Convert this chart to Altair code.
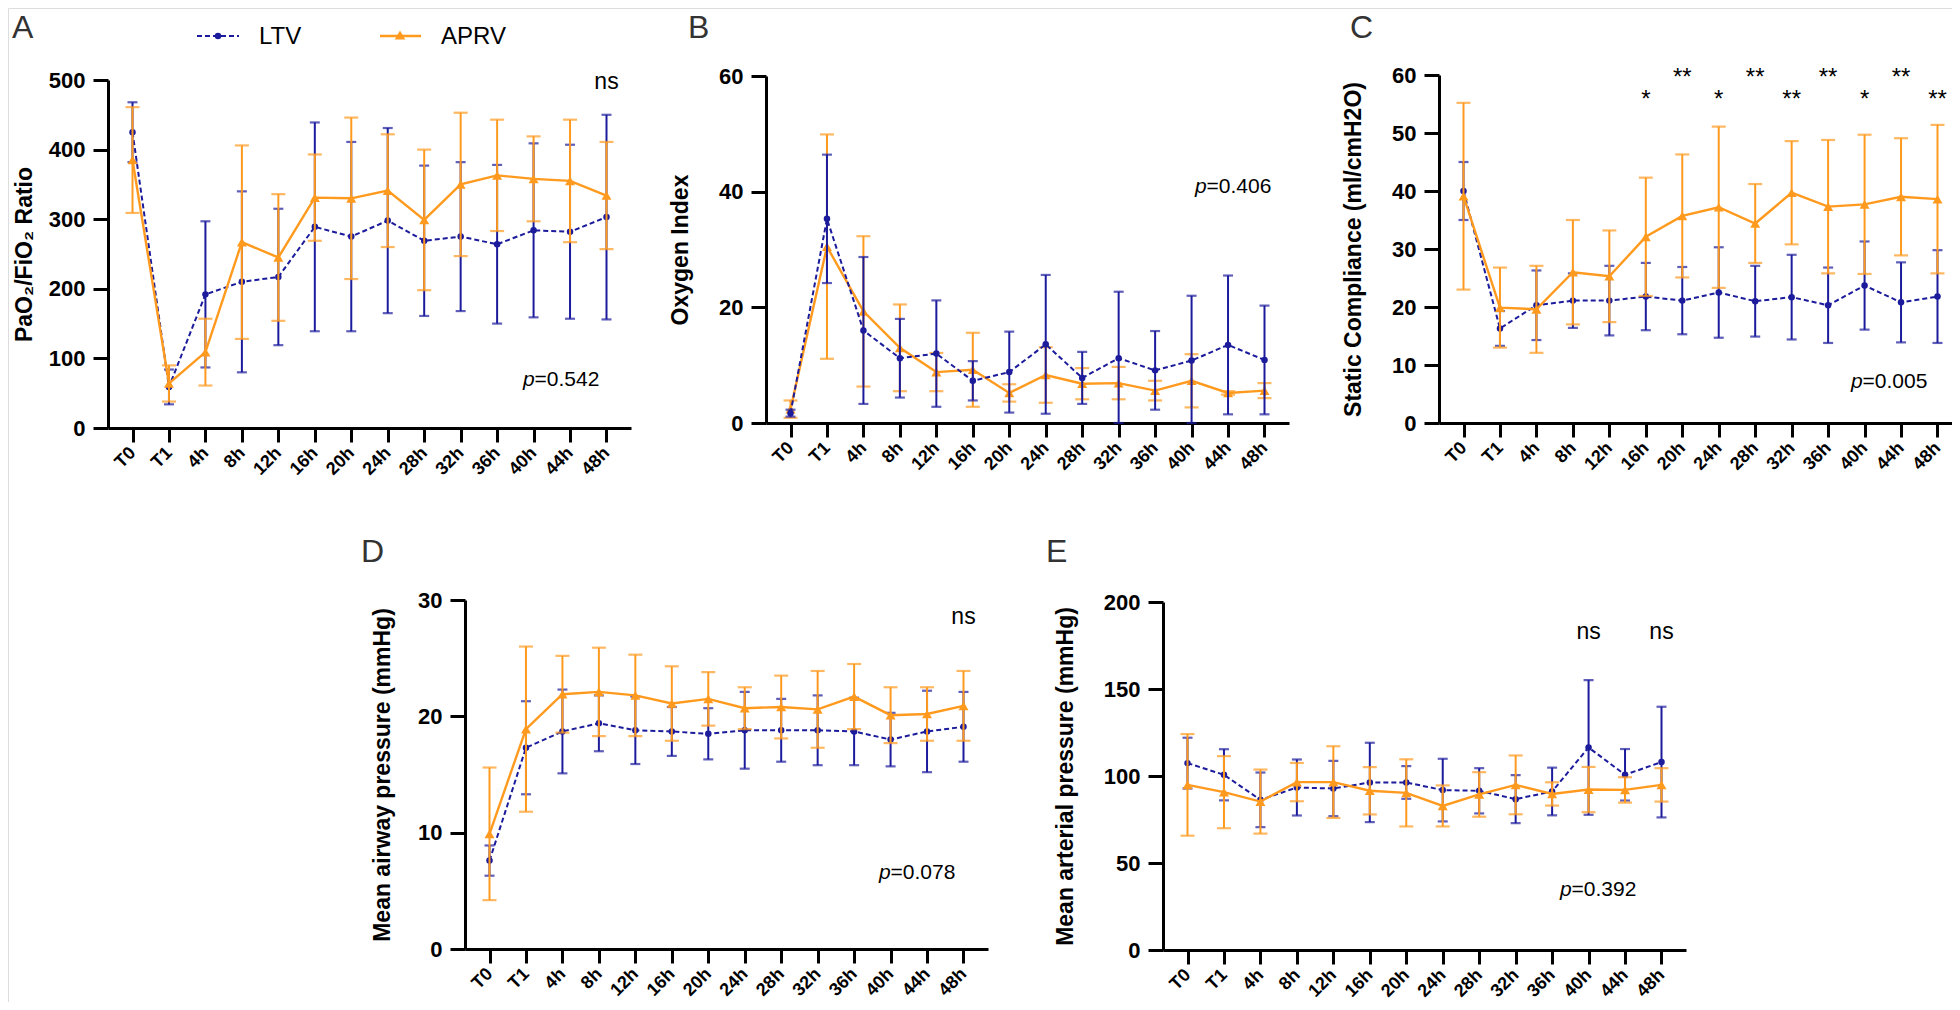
import altair as alt
import pandas as pd

times = ["T0", "T1", "4h", "8h", "12h", "16h", "20h", "24h", "28h", "32h", "36h", "40h", "44h", "48h"]

# Panel A  PaO2/FiO2
a_ltv_mean = [425, 59, 192, 210, 217, 289, 275, 298, 269, 275, 264, 284, 282, 303]
a_ltv_sd = [43, 25, 105, 130, 98, 150, 136, 133, 108, 107, 114, 125, 125, 147]
a_aprv_mean = [385, 64, 109, 267, 245, 331, 330, 341, 299, 350, 363, 358, 355, 334]
a_aprv_sd = [76, 26, 48, 139, 91, 62, 116, 81, 101, 103, 80, 61, 88, 77]

# Panel B  Oxygen index
b_ltv_mean = [1.7, 35.3, 16.0, 11.2, 12.0, 7.3, 8.8, 13.6, 7.8, 11.2, 9.1, 10.8, 13.5, 10.9]
b_ltv_sd = [0.6, 11.1, 12.7, 6.8, 9.2, 3.4, 7.0, 12.0, 4.5, 11.5, 6.8, 11.2, 12.0, 9.4]
b_aprv_mean = [2.4, 30.5, 19.3, 13.0, 8.8, 9.2, 5.2, 8.3, 6.8, 6.9, 5.6, 7.3, 5.2, 5.6]
b_aprv_sd = [1.5, 19.4, 13.0, 7.5, 3.3, 6.4, 1.5, 4.8, 2.7, 2.8, 1.7, 4.6, 0.3, 1.3]

# Panel C  Static compliance
c_ltv_mean = [40.0, 16.3, 20.3, 21.1, 21.1, 21.8, 21.1, 22.5, 21.0, 21.7, 20.3, 23.7, 20.8, 21.8]
c_ltv_sd = [5.0, 3.0, 6.0, 4.7, 6.0, 5.8, 5.8, 7.8, 6.1, 7.3, 6.5, 7.6, 6.9, 8.0]
c_aprv_mean = [39.1, 19.9, 19.6, 26.0, 25.3, 32.1, 35.7, 37.2, 34.4, 39.7, 37.3, 37.7, 39.0, 38.6]
c_aprv_sd = [16.1, 6.9, 7.5, 9.0, 7.9, 10.2, 10.6, 13.9, 6.8, 8.9, 11.5, 12.0, 10.1, 12.8]

# Panel D  Mean airway pressure
d_ltv_mean = [7.6, 17.3, 18.7, 19.4, 18.8, 18.7, 18.5, 18.8, 18.8, 18.8, 18.7, 18.0, 18.7, 19.1]
d_ltv_sd = [1.3, 4.0, 3.6, 2.4, 2.9, 2.1, 2.2, 3.3, 2.7, 3.0, 2.9, 2.3, 3.5, 3.0]
d_aprv_mean = [9.9, 18.9, 21.9, 22.1, 21.8, 21.1, 21.5, 20.7, 20.8, 20.6, 21.7, 20.1, 20.2, 20.9]
d_aprv_sd = [5.7, 7.1, 3.3, 3.8, 3.5, 3.2, 2.3, 1.8, 2.7, 3.3, 2.8, 2.4, 2.3, 3.0]

# Panel E  Mean arterial pressure
e_ltv_mean = [107.4, 100.7, 86.3, 93.4, 92.8, 96.3, 96.3, 91.9, 91.5, 86.7, 91.1, 116.4, 100.7, 108.0]
e_ltv_sd = [14.6, 14.7, 15.7, 16.1, 15.9, 22.8, 9.4, 18.0, 13.0, 13.8, 13.7, 38.7, 14.8, 31.8]
e_aprv_mean = [94.9, 90.7, 85.3, 96.5, 96.5, 91.5, 90.3, 82.8, 89.4, 94.9, 89.7, 92.2, 92.0, 94.9]
e_aprv_sd = [29.2, 20.7, 18.4, 11.0, 20.6, 13.6, 19.3, 11.8, 12.8, 16.9, 6.7, 13.0, 7.3, 9.6]

# annotations
a_notes = [("48h", 497, "ns")]
d_notes = [("48h", 28.5, "ns")]
e_notes = [("40h", 182.8, "ns"), ("48h", 182.8, "ns")]
c_stars = [("16h", 54.5, "*"), ("20h", 58.3, "**"), ("24h", 54.5, "*"), ("28h", 58.3, "**"),
           ("32h", 54.5, "**"), ("36h", 58.3, "**"), ("40h", 54.5, "*"), ("44h", 58.3, "**"),
           ("48h", 54.5, "**")]
p_texts = {"A": "=0.542", "B": "=0.406", "C": "=0.005", "D": "=0.078", "E": "=0.392"}

BLUE = "#1b1b9c"
ORANGE = "#ff9a1f"
FONT = "Liberation Sans"
W, H = 1944, 994


def frame(mean, sd):
    df = pd.DataFrame({"time": times, "idx": list(range(len(times))), "mean": mean, "sd": sd})
    df["lo"] = df["mean"] - df["sd"]
    df["hi"] = df["mean"] + df["sd"]
    return df


def panel(key, ltv, aprv, xr, yr, ydom, ystep, ytitle, title_x, p_pos, notes, blue_top, note_size=23):
    xs = alt.Scale(type="point", domain=times, range=xr, padding=0.672)
    ys = alt.Scale(domain=ydom, range=yr, nice=False, zero=True, clamp=True)
    xa = alt.Axis(orient="bottom", offset=yr[0] - H, title=None, grid=False,
                  labelAngle=-45, labelAlign="right", labelBaseline="middle",
                  labelFont=FONT, labelFontWeight="bold", labelFontSize=18, labelColor="black",
                  labelPadding=8, tickSize=14, tickWidth=3, tickColor="black",
                  domainWidth=3, domainColor="black")
    ya = alt.Axis(orient="left", offset=-xr[0], title=ytitle, grid=False,
                  values=list(range(ydom[0], ydom[1] + 1, ystep)),
                  labelFont=FONT, labelFontWeight="bold", labelFontSize=22, labelColor="black",
                  labelPadding=8, tickSize=15, tickWidth=3, tickColor="black",
                  domainWidth=3, domainColor="black",
                  titleFont=FONT, titleFontWeight="bold", titleFontSize=23, titleColor="black",
                  titleAngle=-90, titleX=title_x, titleBaseline="alphabetic", titleAlign="center")

    def X():
        return alt.X("time:N", scale=xs, axis=xa)

    def Y(f):
        return alt.Y(f"{f}:Q", scale=ys, axis=ya)

    def group(df, color, shape, size, dash, cap, lw):
        base = alt.Chart(df)
        bars = base.mark_rule(color=color, strokeWidth=2).encode(x=X(), y=Y("lo"), y2="hi:Q")
        top = base.mark_tick(color=color, size=cap, thickness=2.2).encode(x=X(), y=Y("hi"))
        bot = base.mark_tick(color=color, size=cap, thickness=2.2).encode(x=X(), y=Y("lo"))
        if dash:
            line = base.mark_line(color=color, strokeWidth=lw, strokeDash=dash)
        else:
            line = base.mark_line(color=color, strokeWidth=lw)
        line = line.encode(x=X(), y=Y("mean"), order="idx:Q")
        pts = base.mark_point(shape=shape, filled=True, size=size, color=color, opacity=1).encode(
            x=X(), y=Y("mean"))
        return [bars, top, bot, line, pts]

    g_ltv = group(frame(*ltv), BLUE, "circle", 42, [5, 3], 10, 2)
    g_aprv = group(frame(*aprv), ORANGE, "triangle-up", 100, None, 14, 2.4)
    layers = (g_aprv + g_ltv) if blue_top else (g_ltv + g_aprv)

    if notes:
        ndf = pd.DataFrame({"time": [n[0] for n in notes], "y": [n[1] for n in notes],
                            "text": [n[2] for n in notes]})
        base_line = "alphabetic" if key == "C" else "middle"
        fs = 24 if key == "C" else note_size
        layers.append(alt.Chart(ndf).mark_text(font=FONT, fontSize=fs, color="black",
                                               baseline=base_line, align="center")
                      .encode(x=X(), y=Y("y"), text="text:N"))

    pt, py, pdx = p_pos
    pdf = pd.DataFrame({"time": [pt], "y": [py], "p": ["p"], "rest": [p_texts[key]]})
    layers.append(alt.Chart(pdf).mark_text(font=FONT, fontSize=21, fontStyle="italic", color="black",
                                           align="right", baseline="middle", dx=pdx)
                  .encode(x=X(), y=Y("y"), text="p:N"))
    layers.append(alt.Chart(pdf).mark_text(font=FONT, fontSize=21, color="black",
                                           align="left", baseline="middle", dx=pdx)
                  .encode(x=X(), y=Y("y"), text="rest:N"))
    return alt.layer(*layers)


pA = panel("A", (a_ltv_mean, a_ltv_sd), (a_aprv_mean, a_aprv_sd), [100, 623], [420, 72], [0, 500], 100,
           "PaO\u2082/FiO\u2082 Ratio", -77, ("40h", 69, 1), a_notes, False)
pB = panel("B", (b_ltv_mean, b_ltv_sd), (b_aprv_mean, b_aprv_sd), [758, 1281], [415, 68], [0, 60], 20,
           "Oxygen Index", -79, ("40h", 40.8, 15), None, True)
pC = panel("C", (c_ltv_mean, c_ltv_sd), (c_aprv_mean, c_aprv_sd), [1431, 1954], [415, 67], [0, 60], 10,
           "Static Compliance (ml/cmH2O)", -79, ("40h", 7.1, -2), c_stars, False)
pD = panel("D", (d_ltv_mean, d_ltv_sd), (d_aprv_mean, d_aprv_sd), [457, 980], [941, 592], [0, 30], 10,
           "Mean airway pressure (mmHg)", -76, ("40h", 6.5, 0), d_notes, False)
pE = panel("E", (e_ltv_mean, e_ltv_sd), (e_aprv_mean, e_aprv_sd), [1155, 1678], [942, 594], [0, 200], 50,
           "Mean arterial pressure (mmHg)", -91, ("40h", 34.5, -17), e_notes, False)

# panel letters
letters = pd.DataFrame({"letter": ["A", "B", "C", "D", "E"],
                        "lx": [4, 680, 1342, 353, 1038],
                        "ly": [30, 30, 30, 554, 554]})
letter_layers = []
for _, r in letters.iterrows():
    letter_layers.append(
        alt.Chart(pd.DataFrame({"t": [r["letter"]]})).mark_text(
            font=FONT, fontSize=32, color="#333333", align="left", baseline="alphabetic")
        .encode(x=alt.value(int(r["lx"])), y=alt.value(int(r["ly"])), text="t:N"))

# legend
one = pd.DataFrame({"k": [0]})
legend = [
    alt.Chart(one).mark_rule(color=BLUE, strokeWidth=2, strokeDash=[5, 3])
    .encode(x=alt.value(189), x2=alt.value(231), y=alt.value(28)),
    alt.Chart(one).mark_point(shape="circle", filled=True, size=42, color=BLUE, opacity=1)
    .encode(x=alt.value(210), y=alt.value(28)),
    alt.Chart(pd.DataFrame({"t": ["LTV"]})).mark_text(font=FONT, fontSize=24, color="black",
                                                      align="left", baseline="middle")
    .encode(x=alt.value(251), y=alt.value(29), text="t:N"),
    alt.Chart(one).mark_rule(color=ORANGE, strokeWidth=2.4)
    .encode(x=alt.value(372), x2=alt.value(413), y=alt.value(28)),
    alt.Chart(one).mark_point(shape="triangle-up", filled=True, size=110, color=ORANGE, opacity=1)
    .encode(x=alt.value(392), y=alt.value(27)),
    alt.Chart(pd.DataFrame({"t": ["APRV"]})).mark_text(font=FONT, fontSize=24, color="black",
                                                       align="left", baseline="middle")
    .encode(x=alt.value(433), y=alt.value(29), text="t:N"),
]

chart = alt.layer(pA, pB, pC, pD, pE, *legend, *letter_layers).resolve_scale(
    x="independent", y="independent"
).properties(
    width=W, height=H, padding=0, autosize=alt.AutoSizeParams(type="none")
).configure_view(strokeWidth=0).configure(background="white")

chart.save("out.html", embed_options={"renderer": "svg", "actions": False})
